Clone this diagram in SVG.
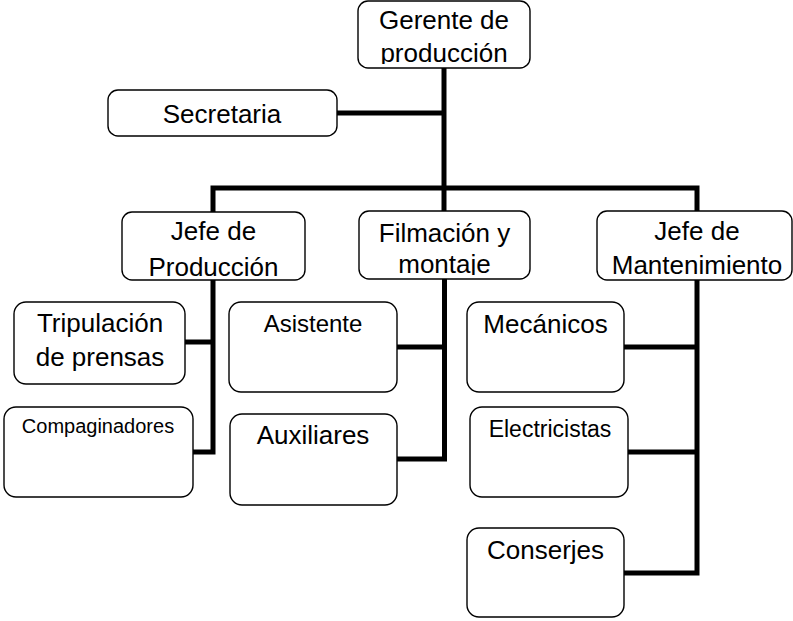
<svg xmlns="http://www.w3.org/2000/svg" width="793" height="621" viewBox="0 0 793 621">
<style>
.box{fill:#fff;stroke:#000;stroke-width:1.4}
text{font-family:"Liberation Sans",Arial,sans-serif;font-size:26px;fill:#000;text-anchor:middle}
.s20{font-size:20px}
.s23{font-size:23px}
.s24{font-size:24px}
.con{fill:none;stroke:#000;stroke-width:5;stroke-linejoin:miter;stroke-linecap:butt}
</style>
<defs>
<clipPath id="cg"><rect x="359" y="2" width="170" height="62"/></clipPath>
<clipPath id="cf"><rect x="360" y="212" width="169" height="63"/></clipPath>
<clipPath id="cm"><rect x="598" y="212" width="195" height="64"/></clipPath>
</defs>
<rect width="793" height="621" fill="#fff"/>
<g id="connectors">
<path class="con" d="M444 68V188"/>
<path class="con" d="M337 113H444"/>
<path class="con" d="M213 212V188H697V211"/>
<path class="con" d="M444 188V211"/>
<path class="con" d="M213 280V452H193"/>
<path class="con" d="M185 342H213"/>
<path class="con" d="M444.5 279V459H397"/>
<path class="con" d="M397 347H444.5"/>
<path class="con" d="M697 280V573H624"/>
<path class="con" d="M624 347H697"/>
<path class="con" d="M628 452H697"/>
</g>
<g id="gerente">
<rect class="box" x="358" y="1" width="172" height="67" rx="10"/>
<g clip-path="url(#cg)">
<text x="444" y="29">Gerente de</text>
<text x="444" y="62">producción</text>
</g>
</g>
<g id="secretaria">
<rect class="box" x="108" y="90" width="229" height="46" rx="10"/>
<text x="222" y="123">Secretaria</text>
</g>
<g id="jefe-produccion">
<rect class="box" x="122" y="212" width="183" height="68" rx="10"/>
<text x="213.5" y="240">Jefe de</text>
<text x="213.5" y="276">Producción</text>
</g>
<g id="filmacion">
<rect class="box" x="359" y="211" width="171" height="68" rx="10"/>
<g clip-path="url(#cf)">
<text x="444.5" y="242">Filmación y</text>
<text x="444.5" y="273">montaje</text>
</g>
</g>
<g id="jefe-mantenimiento">
<rect class="box" x="597" y="211" width="195" height="69" rx="10"/>
<g clip-path="url(#cm)">
<text x="697" y="240">Jefe de</text>
<text x="697" y="274">Mantenimiento</text>
</g>
</g>
<g id="tripulacion">
<rect class="box" x="14" y="302" width="171" height="82" rx="12"/>
<text x="100" y="332">Tripulación</text>
<text x="100" y="366">de prensas</text>
</g>
<g id="compaginadores">
<rect class="box" x="4" y="407" width="189" height="90" rx="12"/>
<text class="s20" x="98" y="433">Compaginadores</text>
</g>
<g id="asistente">
<rect class="box" x="229" y="302" width="168" height="90" rx="12"/>
<text class="s24" x="313" y="332">Asistente</text>
</g>
<g id="auxiliares">
<rect class="box" x="230" y="414" width="167" height="91" rx="12"/>
<text x="313" y="444">Auxiliares</text>
</g>
<g id="mecanicos">
<rect class="box" x="467" y="302" width="157" height="90" rx="12"/>
<text x="545.5" y="333">Mecánicos</text>
</g>
<g id="electricistas">
<rect class="box" x="470" y="407" width="158" height="90" rx="12"/>
<text class="s23" x="550" y="437">Electricistas</text>
</g>
<g id="conserjes">
<rect class="box" x="467" y="528" width="157" height="89" rx="12"/>
<text x="545.5" y="559">Conserjes</text>
</g>
</svg>
